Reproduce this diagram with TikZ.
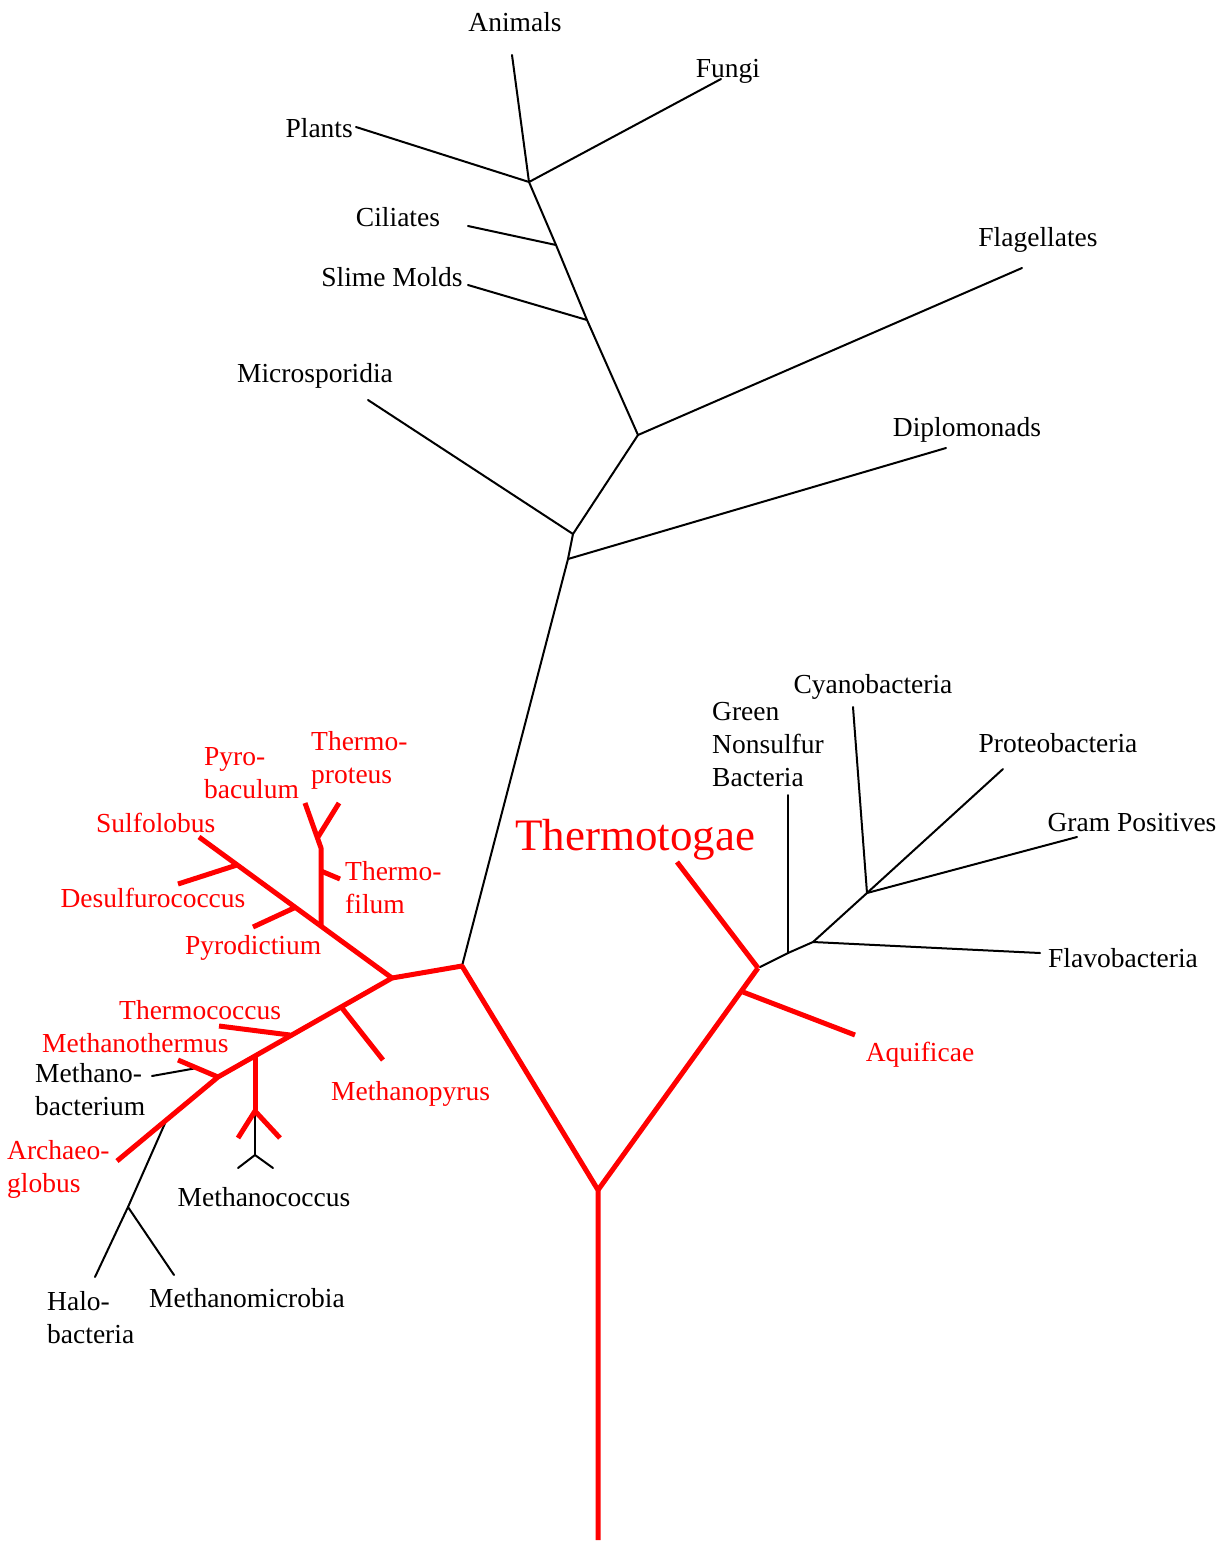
\documentclass[tikz,border=0pt]{standalone}
\usepackage{fontspec}
\setmainfont{Liberation Serif}
\definecolor{tred}{RGB}{255,0,0}
\tikzset{
  thin/.style={line width=2pt, black, line cap=round, line join=round},
  thick/.style={line width=5pt, tred, line join=round},
  lbl/.style={inner sep=0pt, font=\fontsize{27.5}{33}\selectfont, text=black},
  rlbl/.style={lbl, text=tred},
}
\begin{document}
\begin{tikzpicture}[x=1pt,y=-1pt]
\useasboundingbox (0,0) rectangle (1229,1542);
% ---------- coordinates: eukaryotes ----------
\coordinate (eA) at (512,55);
\coordinate (eJ1) at (529,182);
\coordinate (eF) at (721,79);
\coordinate (eP) at (356,127);
\coordinate (eC1) at (556,245);
\coordinate (eCi) at (468,226);
\coordinate (eS1) at (587,320);
\coordinate (eSl) at (468,285);
\coordinate (eJ2) at (638,435);
\coordinate (eFl) at (1022,268);
\coordinate (eJ3) at (573,534);
\coordinate (eMi) at (368,400);
\coordinate (eJ4) at (568,559);
\coordinate (eDi) at (946,448);
% ---------- red backbone ----------
\coordinate (R0) at (598,1540);
\coordinate (R) at (598,1190);
\coordinate (R1) at (462,966);
\coordinate (RB) at (758,968);
\coordinate (bAq) at (743,992);
\coordinate (eAq) at (855,1035);
\coordinate (eTt) at (677,862);
% ---------- bacteria ----------
\coordinate (b1) at (760,967);
\coordinate (b2) at (788,953);
\coordinate (b3) at (813,942);
\coordinate (b4) at (867,893);
\coordinate (eGr) at (788,795);
\coordinate (eCy) at (853,707);
\coordinate (ePr) at (1003,769);
\coordinate (eGp) at (1077,837);
\coordinate (eFv) at (1040,953);
% ---------- archaea ----------
\coordinate (A1) at (392,978);
\coordinate (aSu) at (199,837);
\coordinate (aDj) at (237,865);
\coordinate (aDe) at (178,884);
\coordinate (aPj) at (294,908);
\coordinate (aPy) at (253,927);
\coordinate (aTj) at (321,926);
\coordinate (aTm) at (321,848);
\coordinate (aTk) at (318,837);
\coordinate (aPb) at (305,803);
\coordinate (aTp) at (339,803);
\coordinate (aFj) at (321,871);
\coordinate (aFi) at (340,879);
\coordinate (aMj) at (342,1008);
\coordinate (aMp) at (383,1060);
\coordinate (aTcj) at (290,1035);
\coordinate (aTc) at (219,1026);
\coordinate (aCj) at (255,1056);
\coordinate (aC1) at (255,1111);
\coordinate (aCl) at (238,1138);
\coordinate (aCr) at (280,1138);
\coordinate (aC2) at (255,1155);
\coordinate (aCbl) at (238,1168);
\coordinate (aCbr) at (273,1168);
\coordinate (aB) at (218,1077);
\coordinate (aMt) at (178,1060);
\coordinate (aMbE) at (197,1068);
\coordinate (aMb) at (152,1076);
\coordinate (aHj) at (166,1121);
\coordinate (aAr) at (117,1161);
\coordinate (aH2) at (128,1207);
\coordinate (aHa) at (95,1277);
\coordinate (aMm) at (174,1275);

% ---------- black eukaryote tree ----------
\draw[thin] (eA) -- (eJ1);
\draw[thin] (eJ1) -- (eF);
\draw[thin] (eP) -- (eJ1);
\draw[thin] (eJ1) -- (eC1) -- (eS1) -- (eJ2) -- (eJ3) -- (eJ4) -- (R1);
\draw[thin] (eCi) -- (eC1);
\draw[thin] (eSl) -- (eS1);
\draw[thin] (eJ2) -- (eFl);
\draw[thin] (eMi) -- (eJ3);
\draw[thin] (eJ4) -- (eDi);

% ---------- black bacteria ----------
\draw[thin] (b1) -- (b2) -- (b3) -- (b4);
\draw[thin] (b2) -- (eGr);
\draw[thin] (b4) -- (eCy);
\draw[thin] (b4) -- (ePr);
\draw[thin] (b4) -- (eGp);
\draw[thin] (b3) -- (eFv);

% ---------- black archaea ----------
\draw[thin] (aMb) -- (aMbE);
\draw[thin] (aC1) -- (aC2);
\draw[thin] (aCbl) -- (aC2) -- (aCbr);
\draw[thin] (aHj) -- (aH2);
\draw[thin] (aHa) -- (aH2) -- (aMm);

% ---------- red tree ----------
\draw[thick] (R0) -- (R) -- (R1) -- (A1);
\draw[thick] (R) -- (RB);
\draw[thick] (eTt) -- (RB);
\draw[thick] (bAq) -- (eAq);
\draw[thick] (A1) -- (aSu);
\draw[thick] (aDj) -- (aDe);
\draw[thick] (aPj) -- (aPy);
\draw[thick] (aTj) -- (aTm) -- (aPb);
\draw[thick] (aTk) -- (aTp);
\draw[thick] (aFj) -- (aFi);
\draw[thick] (A1) -- (aB) -- (aAr);
\draw[thick] (aMj) -- (aMp);
\draw[thick] (aTcj) -- (aTc);
\draw[thick] (aCj) -- (aC1);
\draw[thick] (aCl) -- (aC1) -- (aCr);
\draw[thick] (aB) -- (aMt);

% ---------- labels: eukaryotes ----------
\node[lbl] (tAnimals) at (515,22) {Animals};
\node[lbl] (tFungi) at (728,71) {Fungi};
\node[lbl, anchor=east] (tPlants) at (353,128) {Plants};
\node[lbl] (tCiliates) at (398,217) {Ciliates};
\node[lbl] (tSlime) at (392,277) {Slime Molds};
\node[lbl] (tMicro) at (315,376) {Microsporidia};
\node[lbl] (tFlag) at (1038,240) {Flagellates};
\node[lbl] (tDiplo) at (967,430) {Diplomonads};
% ---------- labels: bacteria ----------
\node[lbl] (tCyano) at (873,687) {Cyanobacteria};
\node[lbl, anchor=west, align=left] (tGreen) at (712,745) {Green\\Nonsulfur\\Bacteria};
\node[lbl] (tProteo) at (1058,743) {Proteobacteria};
\node[lbl] (tGram) at (1132,823) {Gram Positives};
\node[lbl] (tFlavo) at (1123,958) {Flavobacteria};
\node[rlbl, font=\fontsize{45}{54}\selectfont] (tThermotogae) at (635,840) {Thermotogae};
\node[rlbl] (tAquif) at (920,1055) {Aquificae};
% ---------- labels: archaea ----------
\node[rlbl, anchor=west, align=left] (tPyrob) at (204,773) {Pyro-\\baculum};
\node[rlbl, anchor=west, align=left] (tThermop) at (311,760) {Thermo-\\proteus};
\node[rlbl, anchor=west] (tSulfo) at (96,823) {Sulfolobus};
\node[rlbl] (tDesulf) at (153,898) {Desulfurococcus};
\node[rlbl, anchor=west] (tPyrod) at (185,948) {Pyrodictium};
\node[rlbl, anchor=west, align=left] (tThermof) at (345,888) {Thermo-\\filum};
\node[rlbl, anchor=west] (tThermoc) at (119,1010) {Thermococcus};
\node[rlbl, anchor=west] (tMethth) at (42,1043) {Methanothermus};
\node[lbl, anchor=west, align=left] (tMethb) at (35,1090) {Methano-\\bacterium};
\node[rlbl, anchor=west] (tMethp) at (331,1094) {Methanopyrus};
\node[rlbl, anchor=west, align=left] (tArch) at (7,1169) {Archaeo-\\globus};
\node[lbl] (tMethc) at (264,1197) {Methanococcus};
\node[lbl, anchor=west, align=left] (tHalo) at (47,1318) {Halo-\\bacteria};
\node[lbl, anchor=west] (tMethm) at (149,1298) {Methanomicrobia};
\end{tikzpicture}
\end{document}
